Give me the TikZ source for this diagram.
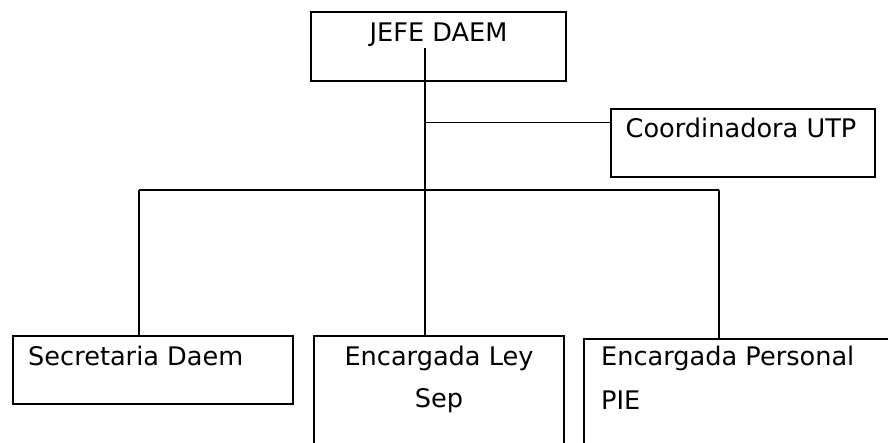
\documentclass[tikz,border=0pt]{standalone}
\usepackage{fontspec}
\setmainfont{DejaVu Sans}
\begin{document}
\begin{tikzpicture}[x=1pt,y=-1pt,
  boxline/.style={draw=black,line width=2.3pt},
  conn/.style={draw=black,line width=1.9pt},
  lbl/.style={inner sep=0pt,font=\fontsize{25.6}{40}\selectfont,anchor=base}]
\useasboundingbox (0,0) rectangle (888,442);
\clip (0,0) rectangle (888,442);
\fill[white] (0,0) rectangle (888,442);
% boxes
\node[boxline,inner sep=0pt,minimum width=255pt,minimum height=69pt] (jefe) at (438.5,46.5) {};
\node[boxline,inner sep=0pt,minimum width=264pt,minimum height=68pt] (utp) at (743,143) {};
\node[boxline,inner sep=0pt,minimum width=280pt,minimum height=68pt] (sec) at (153,370) {};
\node[boxline,inner sep=0pt,minimum width=250pt,minimum height=124pt] (ley) at (439,398) {};
\node[boxline,inner sep=0pt,minimum width=316pt,minimum height=121pt] (pie) at (742,399.5) {};
% texts
\node[lbl] (jefet) at (438.5,41) {JEFE DAEM};
\node[lbl] (utpt) at (741,137) {Coordinadora UTP};
\node[lbl,anchor=base west] (sect) at (28,365) {Secretaria Daem};
\node[lbl] (leyt1) at (439,365) {Encargada Ley};
\node[lbl] (leyt2) at (439,407) {Sep};
\node[lbl,anchor=base west] (piet1) at (601,365) {Encargada Personal};
\node[lbl,anchor=base west] (piet2) at (601,409) {PIE};
% connectors
\coordinate (trunk) at (425,48);
\coordinate (utpj) at (425,122.5);
\coordinate (brl) at (139,190);
\coordinate (brr) at (719,190);
\draw[conn] (trunk) -- (trunk |- ley.north);
\draw[conn] (utpj) -- (utpj -| utp.west);
\draw[conn] (brl) -- (brr);
\draw[conn] (brl) -- (brl |- sec.north);
\draw[conn] (brr) -- (brr |- pie.north);
\end{tikzpicture}
\end{document}
